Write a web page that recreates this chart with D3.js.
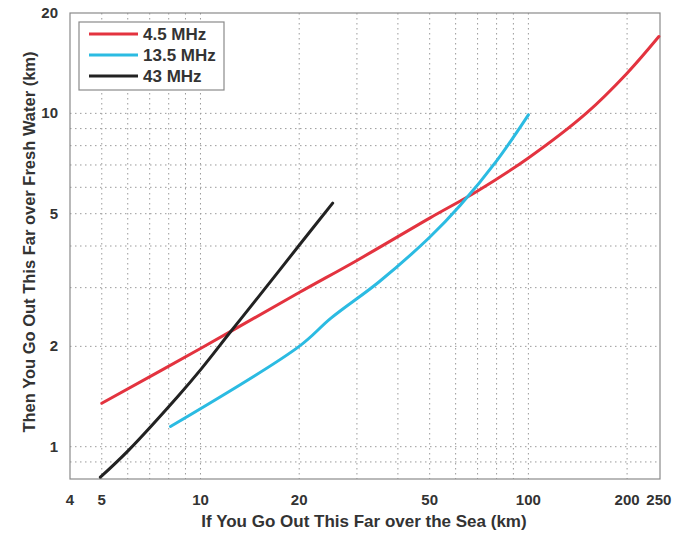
<!DOCTYPE html>
<meta charset="utf-8">
<head>
    <style>
        body, html {
            margin: 0;
            background: white;
            font-family: "Liberation Sans", Arial, helvetica;
        }
        .tick-label {
            font-weight: bold;
            font-size: 15px;
            fill: #333;
        }
        .axis-title {
            font-weight: bold;
            font-size: 17px;
            fill: #333;
        }
        .legend text {
            font-weight: bold;
            font-size: 17px;
            fill: #333;
        }
    </style>
    <script src="https://cdn.jsdelivr.net/npm/d3@7"></script>
</head>
<body>
<div id="chart"></div>
<script>
    // series (km over sea -> km over fresh water)
    var seriesNames = ["4.5 MHz", "13.5 MHz", "43 MHz"];
    var seriesColors = ["#e3333f", "#2bbbe2", "#222222"];

    var redX = [5, 10, 20, 30, 50, 70, 100, 150, 200, 250];
    var redY = [1.35, 1.97, 2.9, 3.62, 4.85, 5.85, 7.35, 10.0, 13.2, 17.0];

    var cyanX = [8.1, 20, 25, 35, 50, 62, 80, 100];
    var cyanY = [1.15, 2.0, 2.43, 3.12, 4.25, 5.3, 7.2, 9.9];

    var blackX = [4.95, 6, 8.5, 10, 12.3, 15, 20, 25.3];
    var blackY = [0.81, 0.97, 1.41, 1.7, 2.2, 2.81, 4.02, 5.38];

    var xTickLabels = [4, 5, 10, 20, 50, 100, 200, 250];
    var yTickLabels = [1, 2, 5, 10, 20];
    var xGrid = [5, 6, 7, 8, 9, 10, 20, 30, 40, 50, 60, 70, 80, 90, 100, 200];
    var yGrid = [0.9, 1, 2, 3, 4, 5, 6, 7, 8, 9, 10];

    var svgWidth = 688, svgHeight = 533;
    var margin = {left: 70, right: 28, top: 13, bottom: 54};
    var plotW = svgWidth - margin.left - margin.right;
    var plotH = svgHeight - margin.top - margin.bottom;

    var x = d3.scaleLog().domain([4, 252]).range([0, plotW]);
    var y = d3.scaleLog().domain([0.8, 20]).range([plotH, 0]);

    var svg = d3.select("#chart").append("svg")
        .attr("width", svgWidth)
        .attr("height", svgHeight);
    var g = svg.append("g")
        .attr("transform", "translate(" + margin.left + "," + margin.top + ")");

    // dotted grid
    g.selectAll(".vgrid").data(xGrid).enter().append("line")
        .attr("class", "vgrid")
        .attr("x1", function(d){return x(d)}).attr("x2", function(d){return x(d)})
        .attr("y1", 0).attr("y2", plotH)
        .attr("stroke", "#9a9a9a").attr("stroke-dasharray", "1.5,3.5");
    g.selectAll(".hgrid").data(yGrid).enter().append("line")
        .attr("class", "hgrid")
        .attr("y1", function(d){return y(d)}).attr("y2", function(d){return y(d)})
        .attr("x1", 0).attr("x2", plotW)
        .attr("stroke", "#9a9a9a").attr("stroke-dasharray", "1.5,3.5");

    // frame
    g.append("rect")
        .attr("width", plotW).attr("height", plotH)
        .attr("fill", "none").attr("stroke", "#8a8a8a").attr("stroke-width", 1.2);

    // tick labels
    g.selectAll(".xlab").data(xTickLabels).enter().append("text")
        .attr("class", "tick-label")
        .attr("x", function(d){return x(d)})
        .attr("y", plotH + 26)
        .attr("text-anchor", "middle")
        .text(function(d){return d});
    g.selectAll(".ylab").data(yTickLabels).enter().append("text")
        .attr("class", "tick-label")
        .attr("x", -12)
        .attr("y", function(d){return y(d) + 5})
        .attr("text-anchor", "end")
        .text(function(d){return d});

    // axis titles
    svg.append("text")
        .attr("class", "axis-title")
        .attr("x", 364).attr("y", 527)
        .attr("text-anchor", "middle")
        .text("If You Go Out This Far over the Sea (km)");
    svg.append("text")
        .attr("class", "axis-title")
        .style("font-size", "16.5px")
        .attr("transform", "translate(35,242) rotate(-90)")
        .attr("text-anchor", "middle")
        .text("Then You Go Out This Far over Fresh Water (km)");

    // lines
    var series = [
        {xs: redX, ys: redY},
        {xs: cyanX, ys: cyanY},
        {xs: blackX, ys: blackY}
    ];
    series.forEach(function(s, i){
        var pts = s.xs.map(function(v, j){return [v, s.ys[j]]});
        var line = d3.line()
            .x(function(d){return x(d[0])})
            .y(function(d){return y(d[1])})
            .curve(d3.curveCatmullRom.alpha(0.5));
        g.append("path")
            .datum(pts)
            .attr("d", line)
            .attr("fill", "none")
            .attr("stroke", seriesColors[i])
            .attr("stroke-width", 3)
            .attr("stroke-linecap", "round");
    });

    // legend
    var legend = g.append("g").attr("class", "legend")
        .attr("transform", "translate(9,9)");
    legend.append("rect")
        .attr("width", 145).attr("height", 68)
        .attr("fill", "white").attr("stroke", "#8a8a8a").attr("stroke-width", 1.2);
    seriesNames.forEach(function(name, i){
        var ly = 12 + i * 21;
        legend.append("line")
            .attr("x1", 10).attr("x2", 59)
            .attr("y1", ly).attr("y2", ly)
            .attr("stroke", seriesColors[i]).attr("stroke-width", 3);
        legend.append("text")
            .attr("x", 64).attr("y", ly + 6)
            .text(name);
    });
</script>
</body>
